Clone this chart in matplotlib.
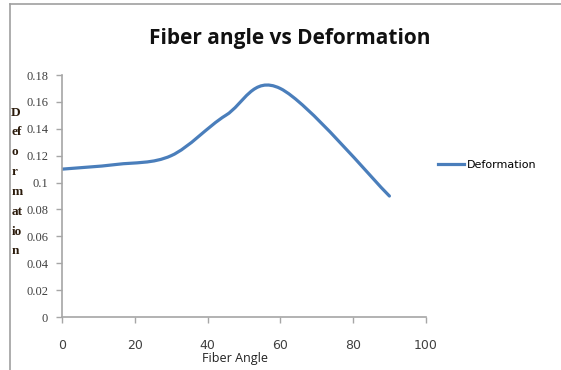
import matplotlib
matplotlib.use('Agg')
import matplotlib.pyplot as plt
from matplotlib.path import Path
import matplotlib.patches as mpatches
from matplotlib.lines import Line2D
import numpy as np

# values
angle = [0, 15, 30, 45, 60, 90]
deformation = [0.11, 0.1135, 0.12, 0.15, 0.17, 0.09]
x_ticks = [0, 20, 40, 60, 80, 100]
y_ticks = [0, 0.02, 0.04, 0.06, 0.08, 0.1, 0.12, 0.14, 0.16, 0.18]
y_tick_labels = ['0', '0.02', '0.04', '0.06', '0.08', '0.1', '0.12', '0.14', '0.16', '0.18']

line_color = '#4a7ebb'
axis_color = '#a6a6a6'

fig = plt.figure(figsize=(5.61, 3.70), dpi=100)
fig.patch.set_facecolor('white')
ax = fig.add_axes([0.1105, 0.1432, 0.6485, 0.654])

# Excel-style smoothed line: cubic bezier through each point (Catmull-Rom)
pts = np.column_stack([angle, deformation])
verts = [tuple(pts[0])]
codes = [Path.MOVETO]
n = len(pts)
for i in range(n - 1):
    p0 = pts[max(i - 1, 0)]
    p1 = pts[i]
    p2 = pts[i + 1]
    p3 = pts[min(i + 2, n - 1)]
    c1 = p1 + (p2 - p0) / 6.0
    c2 = p2 - (p3 - p1) / 6.0
    verts += [tuple(c1), tuple(c2), tuple(p2)]
    codes += [Path.CURVE4] * 3
ax.add_patch(mpatches.PathPatch(Path(verts, codes), facecolor='none',
                                edgecolor=line_color, linewidth=2.3,
                                capstyle='round', joinstyle='round'))

ax.set_xlim(0, 100)
ax.set_ylim(0, 0.18)
ax.set_xticks(x_ticks)
ax.set_xticklabels([str(v) for v in x_ticks], fontsize=9, color='#404040',
                   family='DejaVu Sans')
ax.set_yticks(y_ticks)
ax.set_yticklabels(y_tick_labels, fontsize=9, color='#404040',
                   family='Liberation Serif')
ax.tick_params(axis='both', direction='out', length=4, color=axis_color, width=1)
ax.tick_params(axis='x', pad=12)
ax.tick_params(axis='y', pad=6)
for s in ['top', 'right']:
    ax.spines[s].set_visible(False)
for s in ['left', 'bottom']:
    ax.spines[s].set_color(axis_color)
    ax.spines[s].set_linewidth(1.2)

fig.text(0.517, 0.897, 'Fiber angle vs Deformation', ha='center', va='center',
         fontsize=15, fontweight='bold', family='Open Sans', color='#111111')

fig.text(0.419, 0.032, 'Fiber Angle', ha='center', va='center',
         fontsize=9, family='Open Sans', color='#222222')

# vertical broken y label as in the original
fig.text(0.020, 0.712, 'D\nef\no\nr\nm\nat\nio\nn', ha='left', va='top',
         fontsize=9.5, fontweight='bold', family='Liberation Serif',
         color='#2a1a0a', linespacing=1.87)

# legend
ax.legend(handles=[Line2D([], [], color=line_color, linewidth=2.3)],
          labels=['Deformation'], loc='center left',
          bbox_to_anchor=(1.005, 0.63), frameon=False,
          handlelength=2.4, handletextpad=0.2,
          prop={'family': 'DejaVu Sans', 'size': 8})

# outer chart border (cropped on right and bottom)
fig.add_artist(Line2D([0.018, 0.018], [0, 0.989], color='#a0a0a0', linewidth=1.2,
                      transform=fig.transFigure))
fig.add_artist(Line2D([0.018, 1.0], [0.989, 0.989], color='#a0a0a0', linewidth=1.2,
                      transform=fig.transFigure))

plt.savefig('out.png', dpi=100, facecolor='white')
